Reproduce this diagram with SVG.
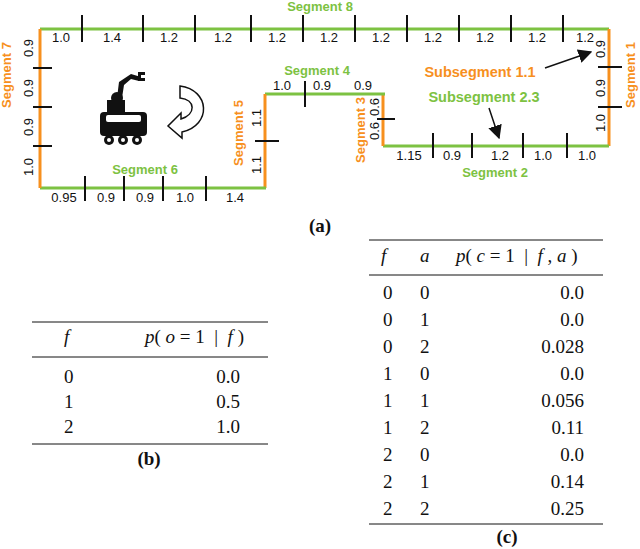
<svg xmlns="http://www.w3.org/2000/svg" width="640" height="549" viewBox="0 0 640 549">
<style>
.g{stroke:#7dc242;stroke-width:3;fill:none}
.o{stroke:#f7901e;stroke-width:3;fill:none}
.t{stroke:#111;stroke-width:2}
.n{font-family:"Liberation Sans",sans-serif;font-size:13px;fill:#111}
.lg{font-family:"Liberation Sans",sans-serif;font-size:13px;font-weight:bold;fill:#7dc242}
.lo{font-family:"Liberation Sans",sans-serif;font-size:13px;font-weight:bold;fill:#f7901e}
.sub{font-size:14.5px}
.s{font-family:"Liberation Serif",serif;font-size:19px;fill:#111}
.i{font-style:italic}
.r{stroke:#111;stroke-width:1}
</style>
<defs>
<marker id="ah2" viewBox="0 0 10 10" markerWidth="14" markerHeight="14" refX="9" refY="5" orient="auto" markerUnits="userSpaceOnUse"><path d="M0,0 L10,5 L0,10 z" fill="#111"/></marker></defs>
<g id="map">
<path class="g" d="M40,29 H609"/>
<path class="o" d="M609,29 V146"/>
<path class="g" d="M383,146 H609"/>
<path class="o" d="M383,94 V146"/>
<path class="g" d="M265,94 H385"/>
<path class="o" d="M265,94 V188"/>
<path class="g" d="M40,188 H266"/>
<path class="o" d="M40,29 V188"/>
<g class="t">
<path d="M82,15V42M143,15V42M195,15V42M251,15V42M303,15V42M355,15V42M407,15V42M459,15V42M511,15V42M563,15V42"/>
<path d="M33,68H52M33,107H52M33,146H52"/>
<path d="M85,176V201M124,176V201M163,176V201M206,176V201"/>
<path d="M255,141H279"/>
<path d="M305,81V107"/>
<path d="M377,119H395"/>
<path d="M433,133V158M472,133V158M523,133V158M567,133V158"/>
<path d="M598,67H622M598,107H622"/>
</g>
<g class="n" text-anchor="middle">
<text x="61" y="42">1.0</text><text x="112" y="42">1.4</text><text x="169" y="42">1.2</text><text x="223" y="42">1.2</text><text x="277" y="42">1.2</text><text x="329" y="42">1.2</text><text x="381" y="42">1.2</text><text x="433" y="42">1.2</text><text x="485" y="42">1.2</text><text x="537" y="42">1.2</text><text x="585" y="42">1.2</text>
<text x="64" y="202">0.95</text><text x="106" y="202">0.9</text><text x="145" y="202">0.9</text><text x="185" y="202">1.0</text><text x="235" y="202">1.4</text>
<text x="282" y="90">1.0</text><text x="322" y="90">0.9</text><text x="363" y="90">0.9</text>
<text x="409" y="160">1.15</text><text x="452" y="160">0.9</text><text x="500" y="160">1.2</text><text x="543" y="160">1.0</text><text x="587" y="160">1.0</text>
<text transform="translate(33,48) rotate(-90)">0.9</text>
<text transform="translate(33,88) rotate(-90)">0.9</text>
<text transform="translate(33,127) rotate(-90)">0.9</text>
<text transform="translate(33,167) rotate(-90)">1.0</text>
<text transform="translate(261,118) rotate(-90)">1.1</text>
<text transform="translate(261,165) rotate(-90)">1.1</text>
<text transform="translate(379,107) rotate(-90)">0.6</text>
<text transform="translate(379,131) rotate(-90)">0.6</text>
<text transform="translate(605,49) rotate(-90)">0.9</text>
<text transform="translate(605,88) rotate(-90)">0.9</text>
<text transform="translate(605,123) rotate(-90)">1.0</text>
</g>
<g text-anchor="middle">
<text class="lg" x="320" y="11">Segment 8</text>
<text class="lg" x="317" y="75">Segment 4</text>
<text class="lg" x="145" y="174">Segment 6</text>
<text class="lg" x="495" y="177">Segment 2</text>
<text class="lo" transform="translate(11,75) rotate(-90)">Segment 7</text>
<text class="lo" transform="translate(243,133) rotate(-90)">Segment 5</text>
<text class="lo" transform="translate(365,130) rotate(-90)">Segment 3</text>
<text class="lo" transform="translate(635,75) rotate(-90)">Segment 1</text>
<text class="lo sub" x="480" y="77">Subsegment 1.1</text>
<text class="lg sub" x="484" y="102">Subsegment 2.3</text>
</g>
<path d="M545,68 L591,52" stroke="#111" stroke-width="1.5" marker-end="url(#ah2)"/>
<path d="M489,108 L499,138" stroke="#111" stroke-width="1.5" marker-end="url(#ah2)"/>
</g>
<g id="robot" fill="#111">
<path d="M117,98 L119,82 L131,74 L141,77 L139,81 L131,79 L124,85 L122,98 z"/>
<path d="M138,72 h7 v3 h-4 v3 h4 v3 h-7 z"/>
<circle cx="117" cy="98" r="6"/>
<path d="M107,100 h18 v12 h-18 z"/>
<rect x="100" y="112" width="47" height="24" rx="4"/>
<rect x="106" y="115" width="35" height="7" rx="2" fill="#fff"/>
<circle cx="109" cy="140" r="5"/><circle cx="123" cy="140" r="5"/><circle cx="137" cy="140" r="5"/>
<circle cx="109" cy="140" r="2" fill="#fff"/><circle cx="123" cy="140" r="2" fill="#fff"/><circle cx="137" cy="140" r="2" fill="#fff"/>
</g>
<g id="rotate">
<path d="M180,86 C210,90 212,125 182,132 L182,138 L168,126 L181,113 L181,119 C196,114 196,100 180,98 z" fill="#fff" stroke="#111" stroke-width="1.5"/>
</g>
<text class="s" x="320" y="232" text-anchor="middle" font-weight="bold">(a)</text>
<g id="tableb" class="s">
<path class="r" d="M32,322H268M32,357H268M32,444H268"/>
<text class="i" x="64" y="343">f</text>
<text x="145" y="343" xml:space="preserve"><tspan class="i">p</tspan>( <tspan class="i">o</tspan> = 1  |  <tspan class="i">f</tspan> )</text>
<text x="64" y="383">0</text><text x="64" y="408">1</text><text x="64" y="433">2</text>
<g text-anchor="end"><text x="240" y="383">0.0</text><text x="240" y="408">0.5</text><text x="240" y="433">1.0</text></g>
<text x="149" y="465" text-anchor="middle" font-weight="bold">(b)</text>
</g>
<g id="tablec" class="s">
<path class="r" d="M369,240H603M369,275H603M369,524H603"/>
<text class="i" x="381" y="262">f</text><text class="i" x="420" y="262">a</text>
<text x="456" y="262" xml:space="preserve"><tspan class="i">p</tspan>( <tspan class="i">c</tspan> = 1  |  <tspan class="i">f</tspan> , <tspan class="i">a</tspan> )</text>
<g id="rows">
<text x="383" y="299">0</text><text x="420" y="299">0</text>
<text x="383" y="326">0</text><text x="420" y="326">1</text>
<text x="383" y="353">0</text><text x="420" y="353">2</text>
<text x="383" y="380">1</text><text x="420" y="380">0</text>
<text x="383" y="407">1</text><text x="420" y="407">1</text>
<text x="383" y="434">1</text><text x="420" y="434">2</text>
<text x="383" y="461">2</text><text x="420" y="461">0</text>
<text x="383" y="488">2</text><text x="420" y="488">1</text>
<text x="383" y="515">2</text><text x="420" y="515">2</text>
</g>
<g text-anchor="end">
<text x="584" y="299">0.0</text><text x="584" y="326">0.0</text><text x="584" y="353">0.028</text><text x="584" y="380">0.0</text><text x="584" y="407">0.056</text><text x="584" y="434">0.11</text><text x="584" y="461">0.0</text><text x="584" y="488">0.14</text><text x="584" y="515">0.25</text>
</g>
<text x="507" y="543" text-anchor="middle" font-weight="bold">(c)</text>
</g>
</svg>
